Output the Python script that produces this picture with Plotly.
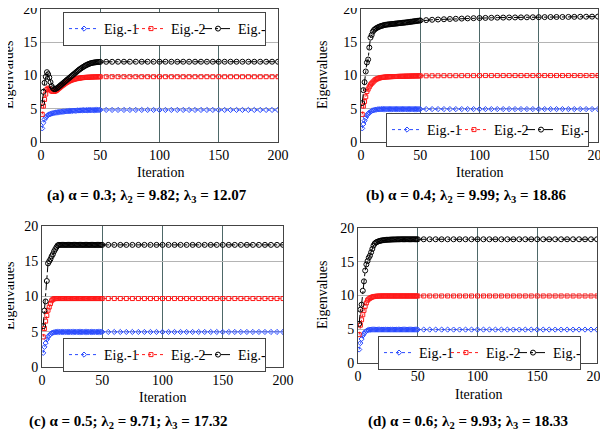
import plotly.graph_objects as go

# iterations: every step up to 50, then every 5th step
iterations = list(range(1, 51)) + list(range(55, 201, 5))

# (a) alpha = 0.3
a_eig1 = [2.05, 2.9, 3.4, 3.7, 3.9, 4.05, 4.15, 4.22, 4.28, 4.33,
          4.37, 4.41, 4.44, 4.47, 4.5, 4.52, 4.54, 4.56, 4.58, 4.6,
          4.62, 4.63, 4.65, 4.66, 4.67, 4.68, 4.7, 4.71, 4.72, 4.73,
          4.74, 4.74, 4.75, 4.76, 4.76, 4.77, 4.77, 4.78, 4.78, 4.79,
          4.79, 4.79, 4.8, 4.8, 4.8, 4.81, 4.81, 4.81, 4.82, 4.82,
          4.82, 4.82, 4.82, 4.82, 4.82, 4.82, 4.82, 4.82, 4.82, 4.82,
          4.82, 4.82, 4.82, 4.82, 4.82, 4.82, 4.82, 4.82, 4.82, 4.82,
          4.82, 4.82, 4.82, 4.82, 4.82, 4.82, 4.82, 4.82, 4.82, 4.82]
a_eig2 = [4.15, 5.4, 6.4, 7.2, 7.9, 8.1, 8.0, 7.8, 7.65, 7.6,
          7.6, 7.65, 7.75, 7.9, 8.05, 8.2, 8.35, 8.5, 8.62, 8.75,
          8.87, 8.98, 9.08, 9.17, 9.25, 9.32, 9.38, 9.43, 9.48, 9.52,
          9.56, 9.59, 9.62, 9.65, 9.67, 9.69, 9.71, 9.72, 9.73, 9.74,
          9.75, 9.76, 9.77, 9.78, 9.78, 9.79, 9.8, 9.8, 9.81, 9.81,
          9.82, 9.82, 9.82, 9.82, 9.82, 9.82, 9.82, 9.82, 9.82, 9.82,
          9.82, 9.82, 9.82, 9.82, 9.82, 9.82, 9.82, 9.82, 9.82, 9.82,
          9.82, 9.82, 9.82, 9.82, 9.82, 9.82, 9.82, 9.82, 9.82, 9.82]
a_eig3 = [5.85, 7.55, 8.9, 9.8, 10.5, 10.2, 9.7, 9.0, 8.4, 8.1,
          7.95, 7.95, 8.05, 8.15, 8.3, 8.45, 8.6, 8.75, 8.9, 9.05,
          9.2, 9.35, 9.5, 9.65, 9.8, 9.95, 10.1, 10.25, 10.4, 10.55,
          10.7, 10.85, 10.98, 11.1, 11.22, 11.33, 11.44, 11.54, 11.63, 11.71,
          11.78, 11.84, 11.89, 11.93, 11.96, 11.99, 12.01, 12.03, 12.04, 12.05,
          12.06, 12.06, 12.07, 12.07, 12.07, 12.07, 12.07, 12.07, 12.07, 12.07,
          12.07, 12.07, 12.07, 12.07, 12.07, 12.07, 12.07, 12.07, 12.07, 12.07,
          12.07, 12.07, 12.07, 12.07, 12.07, 12.07, 12.07, 12.07, 12.07, 12.07]

# (b) alpha = 0.4
b_eig1 = [2.05, 2.7, 3.2, 3.65, 4.0, 4.25, 4.42, 4.55, 4.66, 4.75,
          4.8, 4.85, 4.88, 4.9, 4.92, 4.93, 4.94, 4.94, 4.95, 4.95,
          4.95, 4.95, 4.95, 4.95, 4.95, 4.95, 4.95, 4.95, 4.95, 4.95,
          4.95, 4.95, 4.95, 4.95, 4.95, 4.95, 4.95, 4.95, 4.95, 4.95,
          4.95, 4.95, 4.95, 4.95, 4.95, 4.95, 4.95, 4.95, 4.95, 4.95,
          4.95, 4.95, 4.95, 4.95, 4.95, 4.95, 4.95, 4.95, 4.95, 4.95,
          4.95, 4.95, 4.95, 4.95, 4.95, 4.95, 4.95, 4.95, 4.95, 4.95,
          4.95, 4.95, 4.95, 4.95, 4.95, 4.95, 4.95, 4.95, 4.95, 4.95]
b_eig2 = [4.15, 5.4, 6.1, 6.8, 7.6, 7.95, 8.3, 8.6, 8.82, 9.0,
          9.18, 9.35, 9.45, 9.53, 9.6, 9.65, 9.69, 9.72, 9.74, 9.76,
          9.78, 9.79, 9.8, 9.81, 9.82, 9.83, 9.84, 9.84, 9.85, 9.85,
          9.86, 9.87, 9.87, 9.88, 9.88, 9.89, 9.89, 9.9, 9.9, 9.91,
          9.91, 9.92, 9.92, 9.93, 9.93, 9.93, 9.94, 9.94, 9.94, 9.95,
          9.95, 9.96, 9.96, 9.97, 9.97, 9.97, 9.98, 9.98, 9.98, 9.98,
          9.99, 9.99, 9.99, 9.99, 9.99, 9.99, 9.99, 9.99, 9.99, 9.99,
          9.99, 9.99, 9.99, 9.99, 9.99, 9.99, 9.99, 9.99, 9.99, 9.99]
b_eig3 = [5.85, 7.8, 9.0, 10.6, 11.95, 12.4, 14.2, 15.7, 16.1, 16.6,
          16.85, 17.0, 17.12, 17.22, 17.3, 17.38, 17.45, 17.5, 17.55, 17.6,
          17.63, 17.66, 17.68, 17.7, 17.72, 17.74, 17.76, 17.78, 17.8, 17.82,
          17.84, 17.86, 17.88, 17.9, 17.92, 17.94, 17.96, 17.98, 18.0, 18.03,
          18.05, 18.08, 18.1, 18.13, 18.15, 18.18, 18.2, 18.23, 18.25, 18.28,
          18.33, 18.38, 18.42, 18.46, 18.5, 18.53, 18.56, 18.59, 18.62, 18.64,
          18.66, 18.68, 18.7, 18.71, 18.72, 18.73, 18.74, 18.75, 18.76, 18.77,
          18.78, 18.79, 18.8, 18.8, 18.81, 18.82, 18.83, 18.84, 18.85, 18.86]

# (c) alpha = 0.5
c_eig1 = [2.0, 2.85, 3.4, 3.9, 4.25, 4.5, 4.65, 4.8, 4.87, 4.93,
          4.95, 4.96, 4.97, 4.97, 4.97, 4.97, 4.97, 4.97, 4.97, 4.97,
          4.97, 4.97, 4.97, 4.97, 4.97, 4.97, 4.97, 4.97, 4.97, 4.97,
          4.97, 4.97, 4.97, 4.97, 4.97, 4.97, 4.97, 4.97, 4.97, 4.97,
          4.97, 4.97, 4.97, 4.97, 4.97, 4.97, 4.97, 4.97, 4.97, 4.97,
          4.97, 4.97, 4.97, 4.97, 4.97, 4.97, 4.97, 4.97, 4.97, 4.97,
          4.97, 4.97, 4.97, 4.97, 4.97, 4.97, 4.97, 4.97, 4.97, 4.97,
          4.97, 4.97, 4.97, 4.97, 4.97, 4.97, 4.97, 4.97, 4.97, 4.97]
c_eig2 = [4.27, 5.45, 6.5, 7.3, 8.05, 8.5, 9.0, 9.4, 9.6, 9.68,
          9.7, 9.71, 9.71, 9.71, 9.71, 9.71, 9.71, 9.71, 9.71, 9.71,
          9.71, 9.71, 9.71, 9.71, 9.71, 9.71, 9.71, 9.71, 9.71, 9.71,
          9.71, 9.71, 9.71, 9.71, 9.71, 9.71, 9.71, 9.71, 9.71, 9.71,
          9.71, 9.71, 9.71, 9.71, 9.71, 9.71, 9.71, 9.71, 9.71, 9.71,
          9.71, 9.71, 9.71, 9.71, 9.71, 9.71, 9.71, 9.71, 9.71, 9.71,
          9.71, 9.71, 9.71, 9.71, 9.71, 9.71, 9.71, 9.71, 9.71, 9.71,
          9.71, 9.71, 9.71, 9.71, 9.71, 9.71, 9.71, 9.71, 9.71, 9.71]
c_eig3 = [5.8, 8.0, 9.3, 12.2, 14.7, 15.0, 15.3, 15.7, 16.0, 16.4,
          16.7, 17.0, 17.25, 17.32, 17.32, 17.32, 17.32, 17.32, 17.32, 17.32,
          17.32, 17.32, 17.32, 17.32, 17.32, 17.32, 17.32, 17.32, 17.32, 17.32,
          17.32, 17.32, 17.32, 17.32, 17.32, 17.32, 17.32, 17.32, 17.32, 17.32,
          17.32, 17.32, 17.32, 17.32, 17.32, 17.32, 17.32, 17.32, 17.32, 17.32,
          17.32, 17.32, 17.32, 17.32, 17.32, 17.32, 17.32, 17.32, 17.32, 17.32,
          17.32, 17.32, 17.32, 17.32, 17.32, 17.32, 17.32, 17.32, 17.32, 17.32,
          17.32, 17.32, 17.32, 17.32, 17.32, 17.32, 17.32, 17.32, 17.32, 17.32]

# (d) alpha = 0.6
d_eig1 = [2.0, 2.95, 3.55, 4.05, 4.35, 4.6, 4.75, 4.85, 4.9, 4.93,
          4.95, 4.95, 4.95, 4.95, 4.95, 4.95, 4.95, 4.95, 4.95, 4.95,
          4.95, 4.95, 4.95, 4.95, 4.95, 4.95, 4.95, 4.95, 4.95, 4.95,
          4.95, 4.95, 4.95, 4.95, 4.95, 4.95, 4.95, 4.95, 4.95, 4.95,
          4.95, 4.95, 4.95, 4.95, 4.95, 4.95, 4.95, 4.95, 4.95, 4.95,
          4.95, 4.95, 4.95, 4.95, 4.95, 4.95, 4.95, 4.95, 4.95, 4.95,
          4.95, 4.95, 4.95, 4.95, 4.95, 4.95, 4.95, 4.95, 4.95, 4.95,
          4.95, 4.95, 4.95, 4.95, 4.95, 4.95, 4.95, 4.95, 4.95, 4.95]
d_eig2 = [4.2, 5.6, 6.4, 7.15, 7.8, 8.4, 8.9, 9.3, 9.48, 9.6,
          9.7, 9.78, 9.83, 9.86, 9.88, 9.9, 9.91, 9.92, 9.92, 9.93,
          9.93, 9.93, 9.93, 9.93, 9.93, 9.93, 9.93, 9.93, 9.93, 9.93,
          9.93, 9.93, 9.93, 9.93, 9.93, 9.93, 9.93, 9.93, 9.93, 9.93,
          9.93, 9.93, 9.93, 9.93, 9.93, 9.93, 9.93, 9.93, 9.93, 9.93,
          9.93, 9.93, 9.93, 9.93, 9.93, 9.93, 9.93, 9.93, 9.93, 9.93,
          9.93, 9.93, 9.93, 9.93, 9.93, 9.93, 9.93, 9.93, 9.93, 9.93,
          9.93, 9.93, 9.93, 9.93, 9.93, 9.93, 9.93, 9.93, 9.93, 9.93]
d_eig3 = [5.8, 7.9, 8.65, 10.7, 12.1, 13.7, 14.6, 15.1, 15.6, 15.9,
          16.4, 16.9, 17.4, 17.7, 17.85, 17.95, 18.02, 18.08, 18.12, 18.16,
          18.19, 18.21, 18.23, 18.25, 18.26, 18.27, 18.28, 18.29, 18.3, 18.3,
          18.31, 18.31, 18.32, 18.32, 18.32, 18.33, 18.33, 18.33, 18.33, 18.33,
          18.33, 18.33, 18.33, 18.33, 18.33, 18.33, 18.33, 18.33, 18.33, 18.33,
          18.33, 18.33, 18.33, 18.33, 18.33, 18.33, 18.33, 18.33, 18.33, 18.33,
          18.33, 18.33, 18.33, 18.33, 18.33, 18.33, 18.33, 18.33, 18.33, 18.33,
          18.33, 18.33, 18.33, 18.33, 18.33, 18.33, 18.33, 18.33, 18.33, 18.33]

captions = [
    "(a) α = 0.3; λ<sub>2</sub> = 9.82; λ<sub>3</sub> = 12.07",
    "(b) α = 0.4; λ<sub>2</sub> = 9.99; λ<sub>3</sub> = 18.86",
    "(c) α = 0.5; λ<sub>2</sub> = 9.71; λ<sub>3</sub> = 17.32",
    "(d) α = 0.6; λ<sub>2</sub> = 9.93; λ<sub>3</sub> = 18.33",
]
series_names = ["Eig.-1", "Eig.-2", "Eig.-3"]
panels = [(a_eig1, a_eig2, a_eig3), (b_eig1, b_eig2, b_eig3),
          (c_eig1, c_eig2, c_eig3), (d_eig1, d_eig2, d_eig3)]

W, H = 608, 432
OFF = 8  # page body margin shifts the whole figure by this much
FONT = "Liberation Serif"

# positions in screen pixels: plot boxes (left, right, top, bottom)
boxes = [(41, 278, 9, 142), (361, 598, 9, 142),
         (42, 283, 226, 367), (358, 597, 228, 363)]
legend_pos = [(63, 12), (386, 113), (63, 338), (378, 336)]
caption_pos = [(147, 196), (466, 196), (128, 422), (468, 422)]
xtitle_pos = [(160, 172), (479, 172), (163, 397), (478, 394)]
ytitle_pos = [(9, 75), (323, 75), (9, 296), (322, 295)]

styles = [
    dict(color="#2a4bff", dash="dot", symbol="diamond-open", size=4),
    dict(color="#ff1a1a", dash="dot", symbol="square-open", size=4),
    dict(color="#000000", dash="dashdot", symbol="circle-open", size=5),
]


def px(x):
    return min(max((x - OFF) / W, 0), 1)


def py(y):
    return min(max(1 - (y - OFF) / H, 0), 1)


def txt(s, x, y, size=14, angle=0):
    return dict(text=s, x=px(x), y=py(y), xref="paper", yref="paper",
                showarrow=False, textangle=angle, xanchor="center", yanchor="middle",
                font=dict(size=size, family=FONT, color="black"))


fig = go.Figure()
layout = dict(
    template="none",
    width=W, height=H, margin=dict(l=0, r=0, t=0, b=0, autoexpand=False),
    paper_bgcolor="white", plot_bgcolor="white",
    font=dict(family=FONT, size=14, color="black"),
    annotations=[],
)

for i, (series, box) in enumerate(zip(panels, boxes)):
    n = "" if i == 0 else str(i + 1)
    leg = "legend" + n
    for vals, name, st in zip(series, series_names, styles):
        fig.add_trace(go.Scatter(
            x=iterations, y=vals, name=name, mode="lines+markers",
            xaxis="x" + n, yaxis="y" + n, legend=leg,
            line=dict(color=st["color"], dash=st["dash"], width=1),
            marker=dict(symbol=st["symbol"], size=st["size"], color=st["color"],
                        line=dict(width=1, color=st["color"])),
        ))
    l, r, t, b = box
    layout["xaxis" + n] = dict(
        domain=[px(l), px(r)], range=[0, 200], anchor="y" + n, automargin=False,
        tickvals=[0, 50, 100, 150, 200], showgrid=True, gridcolor="#4e6868",
        gridwidth=1, showline=True, mirror=True, linecolor="#444444",
        zeroline=False, ticks="", ticklabeloverflow="allow",
        tickfont=dict(size=14, family=FONT, color="black"),
    )
    layout["yaxis" + n] = dict(
        domain=[py(b), py(t)], range=[0, 20], anchor="x" + n, automargin=False,
        tickvals=[0, 5, 10, 15, 20], showgrid=True, gridcolor="#b4b4b4",
        gridwidth=1, showline=True, mirror=True, linecolor="#444444",
        zeroline=False, ticks="", ticklabeloverflow="allow",
        tickfont=dict(size=14, family=FONT, color="black"),
    )
    lx, ly = legend_pos[i]
    layout[leg] = dict(
        x=px(lx), y=py(ly), xanchor="left", yanchor="top",
        orientation="h", bgcolor="white", bordercolor="#444444", borderwidth=1,
        font=dict(size=14, family=FONT, color="black"), itemwidth=30, tracegroupgap=0,
        entrywidth=22, entrywidthmode="pixels",
    )
    layout["annotations"].append(txt("Iteration", *xtitle_pos[i]))
    layout["annotations"].append(txt("Eigenvalues", *ytitle_pos[i], angle=-90))
    layout["annotations"].append(txt("<b>" + captions[i] + "</b>", *caption_pos[i], size=15))

fig.update_layout(**layout)
fig.write_html("out.html")
